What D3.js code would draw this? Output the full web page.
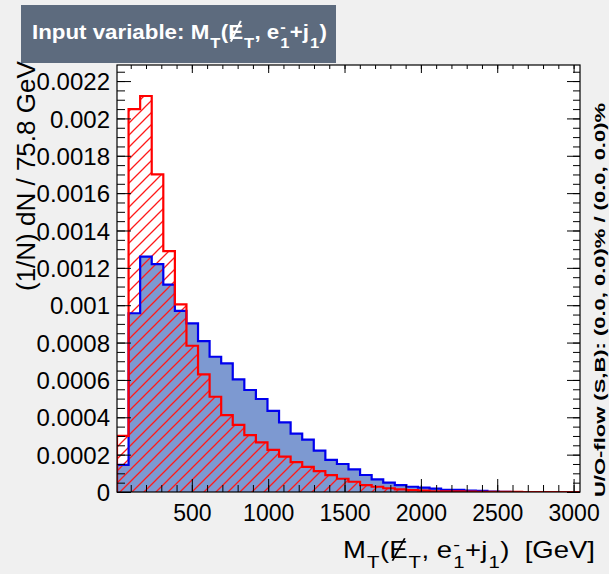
<!DOCTYPE html>
<html>
<head>
<meta charset="utf-8">
<script src="https://cdn.jsdelivr.net/npm/d3@7"></script>
<style>
html,body{margin:0;padding:0;background:#f0f0f0;}
svg{display:block;}
text{font-family:"Liberation Sans",Arial,Helvetica,sans-serif;}
</style>
</head>
<body>
<svg id="c" width="609" height="574"></svg>
<script>
// ---- data ----
const xMin = 10;
const binWidth = 75.8;
const nBins = 40;
const signalValues = [0.000145, 0.000957, 0.00126, 0.00122, 0.00111, 0.00097, 0.000903, 0.000808, 0.000724, 0.000689,
  0.000603, 0.000546, 0.000498, 0.000434, 0.000373, 0.000313, 0.000280, 0.000222, 0.000172, 0.000150,
  0.000121, 0.000091, 0.000068, 0.000050, 0.000037, 0.000028, 0.000023, 0.000018, 0.000011, 0.000011,
  0.000007, 0.000006, 0.000002, 0.000001, 0, 0, 0, 0, 0, 0];
const backgroundValues = [0.00030, 0.00205, 0.00212, 0.00170, 0.00129, 0.001005, 0.000783, 0.000630, 0.000510, 0.000412,
  0.000359, 0.000305, 0.000266, 0.000225, 0.000189, 0.000160, 0.000135, 0.000112, 0.000090, 0.000071,
  0.000055, 0.000037, 0.000028, 0.000020, 0.000014, 0.000010, 0.000007, 0.000004, 0.000003, 0.000003,
  0.000002, 0.000001, 0.000001, 0.000001, 0.000001, 0, 0, 0, 0, 0];
const xMajorTicks = [500, 1000, 1500, 2000, 2500, 3000];
const yMajorTicks = [0, 0.0002, 0.0004, 0.0006, 0.0008, 0.001, 0.0012, 0.0014, 0.0016, 0.0018, 0.002, 0.0022];
const yMax = 0.002286;
const titleText = "Input variable:\u00a0";
const yTitle = "(1/N) dN / 75.8 GeV";
const sideText = "U/O-flow (S,B): (0.0, 0.0)% / (0.0, 0.0)%";
const unitText = "\u00a0\u00a0[GeV]";

// ---- layout ----
const L = 117, R = 580, T = 65, B = 492;
const svg = d3.select("#c");
const xMax = xMin + nBins * binWidth;
const x = d3.scaleLinear().domain([xMin, xMax]).range([L, R]);
const y = d3.scaleLinear().domain([0, yMax]).range([B, T]);

const defs = svg.append("defs");
defs.append("clipPath").attr("id", "clip").append("rect")
  .attr("x", L).attr("y", T).attr("width", R - L).attr("height", B - T);
const hs = 12;
const pat = defs.append("pattern").attr("id", "hatch").attr("patternUnits", "userSpaceOnUse")
  .attr("width", hs).attr("height", hs);
pat.append("path").attr("d", `M-2,2 L2,-2 M0,${hs} L${hs},0 M${hs - 2},${hs + 2} L${hs + 2},${hs - 2}`)
  .attr("stroke", "#ff1a1a").attr("stroke-width", 1.3).attr("fill", "none");

// frame background
svg.append("rect").attr("x", L).attr("y", T).attr("width", R - L).attr("height", B - T).attr("fill", "#fff");

function stepPoints(vals) {
  const pts = [[xMin, 0]];
  vals.forEach((v, i) => {
    pts.push([xMin + i * binWidth, v]);
    pts.push([xMin + (i + 1) * binWidth, v]);
  });
  pts.push([xMax, 0]);
  return pts;
}
const line = d3.line().x(d => x(d[0])).y(d => y(d[1]));
const plot = svg.append("g").attr("clip-path", "url(#clip)");
plot.append("path").attr("d", line(stepPoints(signalValues)) + "Z").attr("fill", "#7d99d1");
plot.append("path").attr("d", line(stepPoints(backgroundValues)) + "Z").attr("fill", "url(#hatch)");
plot.append("path").attr("d", line(stepPoints(signalValues))).attr("fill", "none")
  .attr("stroke", "#0000ee").attr("stroke-width", 2.2);
plot.append("path").attr("d", line(stepPoints(backgroundValues))).attr("fill", "none")
  .attr("stroke", "#ff0000").attr("stroke-width", 2.2);

// ---- axes ----
const xMinor = d3.range(100, 3001, 100);
const yMinor = d3.range(0, 46).map(i => i * 0.00005).filter(v => v <= yMax);
const fmtY = d3.format("~g");

function styleAxis(g) {
  g.select(".domain").remove();
  g.selectAll(".tick line").attr("stroke", "#000").attr("stroke-width", 1);
}
// bottom
svg.append("g").attr("transform", `translate(0,${B})`)
  .call(d3.axisBottom(x).tickValues(xMinor).tickSize(-7).tickFormat(""))
  .call(styleAxis);
const gxb = svg.append("g").attr("transform", `translate(0,${B})`)
  .call(d3.axisBottom(x).tickValues(xMajorTicks).tickSize(-13).tickPadding(0).tickFormat(d3.format("d")))
  .call(styleAxis);
gxb.selectAll(".tick text").attr("y", 29).attr("dy", 0).attr("font-size", 23)
  .attr("font-family", "Liberation Sans, Arial").attr("fill", "#000");
// top
svg.append("g").attr("transform", `translate(0,${T})`)
  .call(d3.axisTop(x).tickValues(xMinor).tickSize(-4).tickFormat(""))
  .call(styleAxis);
svg.append("g").attr("transform", `translate(0,${T})`)
  .call(d3.axisTop(x).tickValues(xMajorTicks).tickSize(-8).tickFormat(""))
  .call(styleAxis);
// left
svg.append("g").attr("transform", `translate(${L},0)`)
  .call(d3.axisLeft(y).tickValues(yMinor).tickSize(-8).tickFormat(""))
  .call(styleAxis);
const gyl = svg.append("g").attr("transform", `translate(${L},0)`)
  .call(d3.axisLeft(y).tickValues(yMajorTicks).tickSize(-14).tickPadding(0).tickFormat(fmtY))
  .call(styleAxis);
gyl.selectAll(".tick text").attr("x", -7).attr("dy", "0.36em").attr("font-size", 24)
  .attr("font-family", "Liberation Sans, Arial").attr("fill", "#000");
// right
svg.append("g").attr("transform", `translate(${R},0)`)
  .call(d3.axisRight(y).tickValues(yMinor).tickSize(-7).tickFormat(""))
  .call(styleAxis);
svg.append("g").attr("transform", `translate(${R},0)`)
  .call(d3.axisRight(y).tickValues(yMajorTicks).tickSize(-13).tickFormat(""))
  .call(styleAxis);

// frame
svg.append("rect").attr("x", L).attr("y", T).attr("width", R - L).attr("height", B - T)
  .attr("fill", "none").attr("stroke", "#000").attr("stroke-width", 1.2);

// y title
svg.append("text").attr("transform", `translate(35,291) rotate(-90)`)
  .attr("font-size", 26).attr("fill", "#000").text(yTitle);

// side text
svg.append("text").attr("transform", `translate(605,497) rotate(-90)`)
  .attr("font-size", 15).attr("font-weight", "bold").attr("fill", "#000")
  .attr("textLength", 394).attr("lengthAdjust", "spacingAndGlyphs").text(sideText);

// latex-like drawing
function drawLatex(parent, x0, y0, fs, weight, color, parts, anchor, targetW) {
  const outer = parent.append("g");
  const g = outer.append("g");
  let cx = 0;
  const sfs = fs * 0.74;
  function put(s, xx, yy, size) {
    const t = g.append("text").attr("x", xx).attr("y", yy).attr("font-size", size)
      .attr("font-weight", weight).attr("fill", color).text(s);
    return t.node().getComputedTextLength();
  }
  parts.forEach(p => {
    if (p.type === "n") {
      cx += put(p.s, cx, 0, fs);
    } else if (p.type === "sub") {
      cx += put(p.s, cx + fs * 0.04, fs * 0.45, sfs) + fs * 0.06;
    } else if (p.type === "slash") {
      const w = put(p.s, cx, 0, fs);
      g.append("line").attr("x1", cx + w * 0.18).attr("y1", fs * 0.12)
        .attr("x2", cx + w * 0.85).attr("y2", -fs * 0.86)
        .attr("stroke", color).attr("stroke-width", weight === "bold" ? fs * 0.09 : fs * 0.065);
      cx += w;
    } else if (p.type === "supsub") {
      const w1 = put(p.sup, cx + fs * 0.04, -fs * 0.33, sfs);
      const w2 = put(p.sub, cx + fs * 0.04, fs * 0.45, sfs);
      cx += Math.max(w1, w2) + fs * 0.06;
    }
  });
  const k = targetW ? targetW / cx : 1;
  const shift = anchor === "end" ? -cx * k : 0;
  outer.attr("transform", `translate(${x0 + shift},${y0})`);
  g.attr("transform", `scale(${k},1)`);
  return outer;
}
const mtParts = [
  {type: "n", s: "M"}, {type: "sub", s: "T"}, {type: "n", s: "("},
  {type: "slash", s: "E"}, {type: "sub", s: "T"}, {type: "n", s: ",\u00a0e"},
  {type: "supsub", sup: "-", sub: "1"}, {type: "n", s: "+j"}, {type: "sub", s: "1"}, {type: "n", s: ")"}
];

// x title
drawLatex(svg, 595, 558, 23, "normal", "#000",
  mtParts.concat([{type: "n", s: unitText}]), "end", 252);

// title box
svg.append("rect").attr("x", 21).attr("y", 5).attr("width", 315).attr("height", 58).attr("fill", "#5d6b7e");
drawLatex(svg, 32, 39, 21, "bold", "#fff", [{type: "n", s: titleText}].concat(mtParts), "start", 295);
</script>
</body>
</html>
